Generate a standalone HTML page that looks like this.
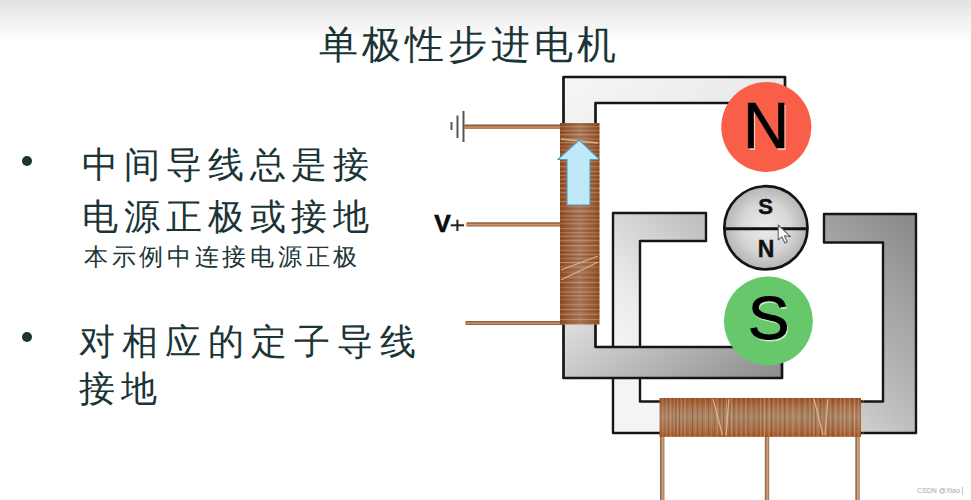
<!DOCTYPE html>
<html><head><meta charset="utf-8">
<style>
html,body{margin:0;padding:0;}
body{width:971px;height:500px;overflow:hidden;position:relative;background:linear-gradient(to bottom,#e2e2e2 0px,#f6f6f6 28px,#ffffff 42px,#ffffff 500px);font-family:"Liberation Serif",serif;color:#1b3436;}
.t{position:absolute;white-space:nowrap;line-height:1;font-weight:300;}
.title{left:319px;top:25px;font-size:39px;letter-spacing:4px;}
.l1{font-size:36px;letter-spacing:5.9px;}
.l2{font-size:36px;letter-spacing:7px;}
.sm{font-size:24px;letter-spacing:3.7px;}
.dot{position:absolute;width:10px;height:10px;border-radius:50%;background:#1b3436;}
svg{position:absolute;left:0;top:0;}
.wm{position:absolute;left:917px;top:486px;font-family:"Liberation Sans",sans-serif;font-size:7px;line-height:10px;color:#a8a8a8;white-space:nowrap;}
.wb{position:absolute;left:962px;top:487px;width:1px;height:8px;background:#c8c8c8;}
</style></head><body>
<div class="t title">单极性步进电机</div>
<div class="dot" style="left:22px;top:156px"></div>
<div class="t l1" style="left:82px;top:147px">中间导线总是接</div>
<div class="t l1" style="left:82px;top:199px">电源正极或接地</div>
<div class="t sm" style="left:84px;top:245px">本示例中连接电源正极</div>
<div class="dot" style="left:22px;top:332px"></div>
<div class="t l2" style="left:78.5px;top:324px">对相应的定子导线</div>
<div class="t l1" style="left:79px;top:371px">接地</div>

<svg width="971" height="500" viewBox="0 0 971 500">
<defs>
<linearGradient id="g1" gradientUnits="userSpaceOnUse" x1="563" y1="77" x2="785" y2="378">
<stop offset="0" stop-color="#f6f6f6"/><stop offset="0.5" stop-color="#e4e4e4"/><stop offset="1" stop-color="#8a8a8a"/>
</linearGradient>
<linearGradient id="g2" gradientUnits="userSpaceOnUse" x1="916" y1="214" x2="700" y2="433">
<stop offset="0" stop-color="#888888"/><stop offset="0.5" stop-color="#bebebe"/><stop offset="0.85" stop-color="#ececec"/><stop offset="1" stop-color="#f4f4f4"/>
</linearGradient>
<radialGradient id="gr" cx="0.5" cy="0.5" r="0.5">
<stop offset="0" stop-color="#ececec"/><stop offset="0.6" stop-color="#d6d6d6"/><stop offset="1" stop-color="#b4b4b4"/>
</radialGradient>
<linearGradient id="cvb" x1="0" y1="0" x2="1" y2="0">
<stop offset="0" stop-color="#8c4a22"/><stop offset="0.15" stop-color="#9a5c36"/><stop offset="0.5" stop-color="#a87a5c"/><stop offset="0.85" stop-color="#9c5c34"/><stop offset="1" stop-color="#8c4a22"/>
</linearGradient>
<pattern id="cv" width="40" height="5" patternUnits="userSpaceOnUse" y="123">
<rect y="0" width="40" height="1.2" fill="#6a3a1a" opacity="0.22"/>
<rect y="2.4" width="40" height="1" fill="#e0c0a0" opacity="0.3"/>
</pattern>
<linearGradient id="chb" x1="0" y1="0" x2="0" y2="1">
<stop offset="0" stop-color="#9a5426"/><stop offset="0.12" stop-color="#a46438"/><stop offset="0.3" stop-color="#a87a58"/><stop offset="0.5" stop-color="#ab8466"/><stop offset="0.75" stop-color="#a87450"/><stop offset="0.9" stop-color="#ac6432"/><stop offset="1" stop-color="#a05424"/>
</linearGradient>
<pattern id="ch" width="5" height="40" patternUnits="userSpaceOnUse" x="660">
<rect x="0" width="1.2" height="40" fill="#6a3a1a" opacity="0.22"/>
<rect x="2.4" width="1" height="40" fill="#e0c0a0" opacity="0.3"/>
</pattern>
</defs>

<!-- ground symbol -->
<g stroke="#555" stroke-width="2">
<line x1="463.5" y1="111" x2="463.5" y2="142"/>
<line x1="457.5" y1="115.5" x2="457.5" y2="138"/>
<line x1="451.5" y1="122" x2="451.5" y2="130"/>
</g>
<text x="434.3" y="232" font-family="Liberation Sans" font-weight="bold" font-size="23" fill="#0a0a0a" stroke="#0a0a0a" stroke-width="0.6" textLength="16.5" lengthAdjust="spacingAndGlyphs">V</text>
<g stroke="#222" stroke-width="2"><line x1="450.7" y1="225.3" x2="464" y2="225.3"/><line x1="457.4" y1="219.7" x2="457.4" y2="231"/></g>

<!-- leads left -->
<g>
<line x1="464.5" y1="126.6" x2="562" y2="126.6" stroke="#8c5a36" stroke-width="4.2"/>
<line x1="465" y1="127" x2="562" y2="127" stroke="#cc9468" stroke-width="1.6"/>
<line x1="466.5" y1="224.4" x2="562" y2="224.4" stroke="#94603a" stroke-width="4.2"/>
<line x1="466.5" y1="224.6" x2="562" y2="224.6" stroke="#cc9468" stroke-width="1.6"/>
<line x1="465.5" y1="323" x2="562" y2="323" stroke="#94603a" stroke-width="4.2"/>
<line x1="465.5" y1="323.2" x2="562" y2="323.2" stroke="#cc9468" stroke-width="1.6"/>
</g>
<!-- leads bottom -->
<g>
<line x1="662.2" y1="430" x2="662.2" y2="500" stroke="#9a6a4a" stroke-width="4.4"/>
<line x1="662.6" y1="430" x2="662.6" y2="500" stroke="#caa07e" stroke-width="2"/>
<line x1="767" y1="430" x2="767" y2="500" stroke="#9a6a4a" stroke-width="4.4"/>
<line x1="767.4" y1="430" x2="767.4" y2="500" stroke="#caa07e" stroke-width="2"/>
<line x1="857.5" y1="430" x2="857.5" y2="500" stroke="#9a6a4a" stroke-width="4.4"/>
<line x1="857.9" y1="430" x2="857.9" y2="500" stroke="#caa07e" stroke-width="2"/>
</g>

<!-- stator 2 -->
<path d="M613,213 H706 V241 H640 V401.5 H883 V242.5 H824 V214 H916 V433 H613 Z" fill="url(#g2)" stroke="#161616" stroke-width="2.4" stroke-linejoin="round"/>
<!-- stator 1 -->
<path d="M563.5,77 H785 V103 H595.5 V347 H782 V378 H563.5 Z" fill="url(#g1)" stroke="#161616" stroke-width="2.7" stroke-linejoin="round"/>

<!-- vertical coil -->
<rect x="560" y="123" width="39.5" height="201.5" fill="url(#cvb)"/>
<g><rect x="560" y="124.0" width="39.5" height="0.9" fill="#6a3818" opacity="0.34"/><rect x="560" y="126.2" width="39.5" height="1" fill="#e6c2a0" opacity="0.27"/><rect x="560" y="128.5" width="39.5" height="0.9" fill="#6a3818" opacity="0.16"/><rect x="560" y="130.2" width="39.5" height="1" fill="#e6c2a0" opacity="0.31"/><rect x="560" y="132.0" width="39.5" height="0.9" fill="#6a3818" opacity="0.27"/><rect x="560" y="134.2" width="39.5" height="1" fill="#e6c2a0" opacity="0.42"/><rect x="560" y="136.5" width="39.5" height="0.9" fill="#6a3818" opacity="0.16"/><rect x="560" y="138.5" width="39.5" height="1" fill="#e6c2a0" opacity="0.28"/><rect x="560" y="140.5" width="39.5" height="0.9" fill="#6a3818" opacity="0.20"/><rect x="560" y="142.2" width="39.5" height="1" fill="#e6c2a0" opacity="0.32"/><rect x="560" y="144.0" width="39.5" height="0.9" fill="#6a3818" opacity="0.32"/><rect x="560" y="145.8" width="39.5" height="1" fill="#e6c2a0" opacity="0.19"/><rect x="560" y="147.5" width="39.5" height="0.9" fill="#6a3818" opacity="0.28"/><rect x="560" y="149.5" width="39.5" height="1" fill="#e6c2a0" opacity="0.32"/><rect x="560" y="151.5" width="39.5" height="0.9" fill="#6a3818" opacity="0.27"/><rect x="560" y="153.2" width="39.5" height="1" fill="#e6c2a0" opacity="0.27"/><rect x="560" y="155.0" width="39.5" height="0.9" fill="#6a3818" opacity="0.16"/><rect x="560" y="157.0" width="39.5" height="1" fill="#e6c2a0" opacity="0.41"/><rect x="560" y="159.0" width="39.5" height="0.9" fill="#6a3818" opacity="0.23"/><rect x="560" y="161.2" width="39.5" height="1" fill="#e6c2a0" opacity="0.31"/><rect x="560" y="163.5" width="39.5" height="0.9" fill="#6a3818" opacity="0.21"/><rect x="560" y="166.2" width="39.5" height="1" fill="#e6c2a0" opacity="0.39"/><rect x="560" y="169.0" width="39.5" height="0.9" fill="#6a3818" opacity="0.17"/><rect x="560" y="171.0" width="39.5" height="1" fill="#e6c2a0" opacity="0.32"/><rect x="560" y="173.0" width="39.5" height="0.9" fill="#6a3818" opacity="0.22"/><rect x="560" y="175.0" width="39.5" height="1" fill="#e6c2a0" opacity="0.31"/><rect x="560" y="177.0" width="39.5" height="0.9" fill="#6a3818" opacity="0.26"/><rect x="560" y="178.8" width="39.5" height="1" fill="#e6c2a0" opacity="0.34"/><rect x="560" y="180.5" width="39.5" height="0.9" fill="#6a3818" opacity="0.29"/><rect x="560" y="183.0" width="39.5" height="1" fill="#e6c2a0" opacity="0.28"/><rect x="560" y="185.5" width="39.5" height="0.9" fill="#6a3818" opacity="0.24"/><rect x="560" y="187.8" width="39.5" height="1" fill="#e6c2a0" opacity="0.43"/><rect x="560" y="190.0" width="39.5" height="0.9" fill="#6a3818" opacity="0.21"/><rect x="560" y="192.2" width="39.5" height="1" fill="#e6c2a0" opacity="0.39"/><rect x="560" y="194.5" width="39.5" height="0.9" fill="#6a3818" opacity="0.17"/><rect x="560" y="196.5" width="39.5" height="1" fill="#e6c2a0" opacity="0.24"/><rect x="560" y="198.5" width="39.5" height="0.9" fill="#6a3818" opacity="0.33"/><rect x="560" y="201.0" width="39.5" height="1" fill="#e6c2a0" opacity="0.37"/><rect x="560" y="203.5" width="39.5" height="0.9" fill="#6a3818" opacity="0.27"/><rect x="560" y="205.8" width="39.5" height="1" fill="#e6c2a0" opacity="0.17"/><rect x="560" y="208.0" width="39.5" height="0.9" fill="#6a3818" opacity="0.23"/><rect x="560" y="210.8" width="39.5" height="1" fill="#e6c2a0" opacity="0.38"/><rect x="560" y="213.5" width="39.5" height="0.9" fill="#6a3818" opacity="0.34"/><rect x="560" y="215.5" width="39.5" height="1" fill="#e6c2a0" opacity="0.28"/><rect x="560" y="217.5" width="39.5" height="0.9" fill="#6a3818" opacity="0.30"/><rect x="560" y="219.2" width="39.5" height="1" fill="#e6c2a0" opacity="0.32"/><rect x="560" y="221.0" width="39.5" height="0.9" fill="#6a3818" opacity="0.22"/><rect x="560" y="223.2" width="39.5" height="1" fill="#e6c2a0" opacity="0.26"/><rect x="560" y="225.5" width="39.5" height="0.9" fill="#6a3818" opacity="0.27"/><rect x="560" y="228.0" width="39.5" height="1" fill="#e6c2a0" opacity="0.29"/><rect x="560" y="230.5" width="39.5" height="0.9" fill="#6a3818" opacity="0.34"/><rect x="560" y="232.2" width="39.5" height="1" fill="#e6c2a0" opacity="0.29"/><rect x="560" y="234.0" width="39.5" height="0.9" fill="#6a3818" opacity="0.16"/><rect x="560" y="235.8" width="39.5" height="1" fill="#e6c2a0" opacity="0.36"/><rect x="560" y="237.5" width="39.5" height="0.9" fill="#6a3818" opacity="0.35"/><rect x="560" y="240.2" width="39.5" height="1" fill="#e6c2a0" opacity="0.40"/><rect x="560" y="243.0" width="39.5" height="0.9" fill="#6a3818" opacity="0.29"/><rect x="560" y="245.2" width="39.5" height="1" fill="#e6c2a0" opacity="0.42"/><rect x="560" y="247.5" width="39.5" height="0.9" fill="#6a3818" opacity="0.15"/><rect x="560" y="249.8" width="39.5" height="1" fill="#e6c2a0" opacity="0.29"/><rect x="560" y="252.0" width="39.5" height="0.9" fill="#6a3818" opacity="0.27"/><rect x="560" y="254.0" width="39.5" height="1" fill="#e6c2a0" opacity="0.30"/><rect x="560" y="256.0" width="39.5" height="0.9" fill="#6a3818" opacity="0.30"/><rect x="560" y="258.0" width="39.5" height="1" fill="#e6c2a0" opacity="0.19"/><rect x="560" y="260.0" width="39.5" height="0.9" fill="#6a3818" opacity="0.23"/><rect x="560" y="262.0" width="39.5" height="1" fill="#e6c2a0" opacity="0.43"/><rect x="560" y="264.0" width="39.5" height="0.9" fill="#6a3818" opacity="0.17"/><rect x="560" y="266.5" width="39.5" height="1" fill="#e6c2a0" opacity="0.28"/><rect x="560" y="269.0" width="39.5" height="0.9" fill="#6a3818" opacity="0.21"/><rect x="560" y="271.8" width="39.5" height="1" fill="#e6c2a0" opacity="0.19"/><rect x="560" y="274.5" width="39.5" height="0.9" fill="#6a3818" opacity="0.32"/><rect x="560" y="277.0" width="39.5" height="1" fill="#e6c2a0" opacity="0.23"/><rect x="560" y="279.5" width="39.5" height="0.9" fill="#6a3818" opacity="0.35"/><rect x="560" y="282.0" width="39.5" height="1" fill="#e6c2a0" opacity="0.35"/><rect x="560" y="284.5" width="39.5" height="0.9" fill="#6a3818" opacity="0.34"/><rect x="560" y="287.0" width="39.5" height="1" fill="#e6c2a0" opacity="0.20"/><rect x="560" y="289.5" width="39.5" height="0.9" fill="#6a3818" opacity="0.18"/><rect x="560" y="291.5" width="39.5" height="1" fill="#e6c2a0" opacity="0.35"/><rect x="560" y="293.5" width="39.5" height="0.9" fill="#6a3818" opacity="0.25"/><rect x="560" y="295.2" width="39.5" height="1" fill="#e6c2a0" opacity="0.33"/><rect x="560" y="297.0" width="39.5" height="0.9" fill="#6a3818" opacity="0.21"/><rect x="560" y="299.2" width="39.5" height="1" fill="#e6c2a0" opacity="0.19"/><rect x="560" y="301.5" width="39.5" height="0.9" fill="#6a3818" opacity="0.22"/><rect x="560" y="304.2" width="39.5" height="1" fill="#e6c2a0" opacity="0.32"/><rect x="560" y="307.0" width="39.5" height="0.9" fill="#6a3818" opacity="0.29"/><rect x="560" y="309.0" width="39.5" height="1" fill="#e6c2a0" opacity="0.30"/><rect x="560" y="311.0" width="39.5" height="0.9" fill="#6a3818" opacity="0.28"/><rect x="560" y="313.8" width="39.5" height="1" fill="#e6c2a0" opacity="0.37"/><rect x="560" y="316.5" width="39.5" height="0.9" fill="#6a3818" opacity="0.33"/><rect x="560" y="319.0" width="39.5" height="1" fill="#e6c2a0" opacity="0.38"/><rect x="560" y="321.5" width="39.5" height="0.9" fill="#6a3818" opacity="0.23"/><rect x="560" y="324.2" width="39.5" height="1" fill="#e6c2a0" opacity="0.27"/></g>
<g stroke="#e0bc96" stroke-width="1.3" fill="none" opacity="0.9">
<line x1="561" y1="139" x2="598" y2="143"/>
<line x1="561" y1="270" x2="598" y2="256"/>
<line x1="561" y1="280" x2="598" y2="262"/>
</g>
<!-- arrow -->
<path d="M579.2,140 L599.5,159.5 L590,159.5 L590,205 L567,205 L567,159.5 L557.8,159.5 Z" fill="#bfe9f9" stroke="#4f9cb8" stroke-width="1.1" stroke-linejoin="round"/>

<!-- horizontal coil -->
<rect x="659.5" y="398" width="201.5" height="38.8" fill="url(#chb)"/>
<g><rect x="660.5" y="398" width="0.9" height="38.8" fill="#6a3818" opacity="0.27"/><rect x="662.2" y="398" width="1" height="38.8" fill="#e6c2a0" opacity="0.27"/><rect x="664.0" y="398" width="0.9" height="38.8" fill="#6a3818" opacity="0.17"/><rect x="666.0" y="398" width="1" height="38.8" fill="#e6c2a0" opacity="0.21"/><rect x="668.0" y="398" width="0.9" height="38.8" fill="#6a3818" opacity="0.18"/><rect x="670.0" y="398" width="1" height="38.8" fill="#e6c2a0" opacity="0.33"/><rect x="672.0" y="398" width="0.9" height="38.8" fill="#6a3818" opacity="0.15"/><rect x="673.8" y="398" width="1" height="38.8" fill="#e6c2a0" opacity="0.20"/><rect x="675.5" y="398" width="0.9" height="38.8" fill="#6a3818" opacity="0.39"/><rect x="677.2" y="398" width="1" height="38.8" fill="#e6c2a0" opacity="0.33"/><rect x="679.0" y="398" width="0.9" height="38.8" fill="#6a3818" opacity="0.37"/><rect x="680.8" y="398" width="1" height="38.8" fill="#e6c2a0" opacity="0.33"/><rect x="682.5" y="398" width="0.9" height="38.8" fill="#6a3818" opacity="0.31"/><rect x="684.5" y="398" width="1" height="38.8" fill="#e6c2a0" opacity="0.44"/><rect x="686.5" y="398" width="0.9" height="38.8" fill="#6a3818" opacity="0.24"/><rect x="689.2" y="398" width="1" height="38.8" fill="#e6c2a0" opacity="0.19"/><rect x="692.0" y="398" width="0.9" height="38.8" fill="#6a3818" opacity="0.40"/><rect x="694.5" y="398" width="1" height="38.8" fill="#e6c2a0" opacity="0.29"/><rect x="697.0" y="398" width="0.9" height="38.8" fill="#6a3818" opacity="0.23"/><rect x="699.5" y="398" width="1" height="38.8" fill="#e6c2a0" opacity="0.19"/><rect x="702.0" y="398" width="0.9" height="38.8" fill="#6a3818" opacity="0.24"/><rect x="705.0" y="398" width="1" height="38.8" fill="#e6c2a0" opacity="0.23"/><rect x="708.0" y="398" width="0.9" height="38.8" fill="#6a3818" opacity="0.19"/><rect x="711.0" y="398" width="1" height="38.8" fill="#e6c2a0" opacity="0.16"/><rect x="714.0" y="398" width="0.9" height="38.8" fill="#6a3818" opacity="0.24"/><rect x="716.8" y="398" width="1" height="38.8" fill="#e6c2a0" opacity="0.36"/><rect x="719.5" y="398" width="0.9" height="38.8" fill="#6a3818" opacity="0.34"/><rect x="721.2" y="398" width="1" height="38.8" fill="#e6c2a0" opacity="0.24"/><rect x="723.0" y="398" width="0.9" height="38.8" fill="#6a3818" opacity="0.37"/><rect x="726.0" y="398" width="1" height="38.8" fill="#e6c2a0" opacity="0.36"/><rect x="729.0" y="398" width="0.9" height="38.8" fill="#6a3818" opacity="0.28"/><rect x="731.2" y="398" width="1" height="38.8" fill="#e6c2a0" opacity="0.42"/><rect x="733.5" y="398" width="0.9" height="38.8" fill="#6a3818" opacity="0.34"/><rect x="735.8" y="398" width="1" height="38.8" fill="#e6c2a0" opacity="0.31"/><rect x="738.0" y="398" width="0.9" height="38.8" fill="#6a3818" opacity="0.23"/><rect x="740.8" y="398" width="1" height="38.8" fill="#e6c2a0" opacity="0.22"/><rect x="743.5" y="398" width="0.9" height="38.8" fill="#6a3818" opacity="0.35"/><rect x="745.5" y="398" width="1" height="38.8" fill="#e6c2a0" opacity="0.40"/><rect x="747.5" y="398" width="0.9" height="38.8" fill="#6a3818" opacity="0.35"/><rect x="750.5" y="398" width="1" height="38.8" fill="#e6c2a0" opacity="0.21"/><rect x="753.5" y="398" width="0.9" height="38.8" fill="#6a3818" opacity="0.24"/><rect x="756.0" y="398" width="1" height="38.8" fill="#e6c2a0" opacity="0.16"/><rect x="758.5" y="398" width="0.9" height="38.8" fill="#6a3818" opacity="0.35"/><rect x="760.2" y="398" width="1" height="38.8" fill="#e6c2a0" opacity="0.29"/><rect x="762.0" y="398" width="0.9" height="38.8" fill="#6a3818" opacity="0.32"/><rect x="764.0" y="398" width="1" height="38.8" fill="#e6c2a0" opacity="0.44"/><rect x="766.0" y="398" width="0.9" height="38.8" fill="#6a3818" opacity="0.35"/><rect x="768.5" y="398" width="1" height="38.8" fill="#e6c2a0" opacity="0.37"/><rect x="771.0" y="398" width="0.9" height="38.8" fill="#6a3818" opacity="0.39"/><rect x="773.2" y="398" width="1" height="38.8" fill="#e6c2a0" opacity="0.26"/><rect x="775.5" y="398" width="0.9" height="38.8" fill="#6a3818" opacity="0.18"/><rect x="777.5" y="398" width="1" height="38.8" fill="#e6c2a0" opacity="0.29"/><rect x="779.5" y="398" width="0.9" height="38.8" fill="#6a3818" opacity="0.20"/><rect x="781.8" y="398" width="1" height="38.8" fill="#e6c2a0" opacity="0.34"/><rect x="784.0" y="398" width="0.9" height="38.8" fill="#6a3818" opacity="0.36"/><rect x="786.8" y="398" width="1" height="38.8" fill="#e6c2a0" opacity="0.29"/><rect x="789.5" y="398" width="0.9" height="38.8" fill="#6a3818" opacity="0.24"/><rect x="792.5" y="398" width="1" height="38.8" fill="#e6c2a0" opacity="0.34"/><rect x="795.5" y="398" width="0.9" height="38.8" fill="#6a3818" opacity="0.18"/><rect x="798.5" y="398" width="1" height="38.8" fill="#e6c2a0" opacity="0.27"/><rect x="801.5" y="398" width="0.9" height="38.8" fill="#6a3818" opacity="0.34"/><rect x="804.5" y="398" width="1" height="38.8" fill="#e6c2a0" opacity="0.29"/><rect x="807.5" y="398" width="0.9" height="38.8" fill="#6a3818" opacity="0.26"/><rect x="809.5" y="398" width="1" height="38.8" fill="#e6c2a0" opacity="0.34"/><rect x="811.5" y="398" width="0.9" height="38.8" fill="#6a3818" opacity="0.35"/><rect x="813.2" y="398" width="1" height="38.8" fill="#e6c2a0" opacity="0.44"/><rect x="815.0" y="398" width="0.9" height="38.8" fill="#6a3818" opacity="0.27"/><rect x="817.5" y="398" width="1" height="38.8" fill="#e6c2a0" opacity="0.37"/><rect x="820.0" y="398" width="0.9" height="38.8" fill="#6a3818" opacity="0.33"/><rect x="821.8" y="398" width="1" height="38.8" fill="#e6c2a0" opacity="0.20"/><rect x="823.5" y="398" width="0.9" height="38.8" fill="#6a3818" opacity="0.16"/><rect x="825.5" y="398" width="1" height="38.8" fill="#e6c2a0" opacity="0.33"/><rect x="827.5" y="398" width="0.9" height="38.8" fill="#6a3818" opacity="0.35"/><rect x="830.0" y="398" width="1" height="38.8" fill="#e6c2a0" opacity="0.19"/><rect x="832.5" y="398" width="0.9" height="38.8" fill="#6a3818" opacity="0.40"/><rect x="835.2" y="398" width="1" height="38.8" fill="#e6c2a0" opacity="0.35"/><rect x="838.0" y="398" width="0.9" height="38.8" fill="#6a3818" opacity="0.19"/><rect x="840.2" y="398" width="1" height="38.8" fill="#e6c2a0" opacity="0.31"/><rect x="842.5" y="398" width="0.9" height="38.8" fill="#6a3818" opacity="0.15"/><rect x="844.2" y="398" width="1" height="38.8" fill="#e6c2a0" opacity="0.44"/><rect x="846.0" y="398" width="0.9" height="38.8" fill="#6a3818" opacity="0.18"/><rect x="849.0" y="398" width="1" height="38.8" fill="#e6c2a0" opacity="0.37"/><rect x="852.0" y="398" width="0.9" height="38.8" fill="#6a3818" opacity="0.26"/><rect x="854.0" y="398" width="1" height="38.8" fill="#e6c2a0" opacity="0.41"/><rect x="856.0" y="398" width="0.9" height="38.8" fill="#6a3818" opacity="0.16"/><rect x="858.0" y="398" width="1" height="38.8" fill="#e6c2a0" opacity="0.21"/><rect x="860.0" y="398" width="0.9" height="38.8" fill="#6a3818" opacity="0.21"/><rect x="862.8" y="398" width="1" height="38.8" fill="#e6c2a0" opacity="0.33"/></g>
<g stroke="#e0bc96" stroke-width="1.3" fill="none" opacity="0.9">
<line x1="713" y1="399" x2="722.5" y2="435"/>
<line x1="729" y1="399" x2="726" y2="435"/>
<line x1="814" y1="399" x2="823" y2="435"/>
<line x1="828" y1="399" x2="825" y2="435"/>
</g>

<!-- N circle -->
<circle cx="766.3" cy="127" r="45" fill="#f95e48"/>
<text x="767.5" y="149.5" text-anchor="middle" font-family="Liberation Sans" font-size="64" fill="#fde0d8" opacity="0.8">N</text>
<text x="766.2" y="148" text-anchor="middle" font-family="Liberation Sans" font-size="64" fill="#000" stroke="#000" stroke-width="0.7">N</text>
<!-- rotor -->
<circle cx="765.9" cy="227.8" r="41.6" fill="url(#gr)" stroke="#141414" stroke-width="2.7"/>
<line x1="724" y1="228.8" x2="807" y2="228.8" stroke="#111" stroke-width="3"/>
<text x="765.6" y="214" text-anchor="middle" font-family="Liberation Sans" font-weight="bold" font-size="22" fill="#111" stroke="#111" stroke-width="0.5">S</text>
<text x="766" y="257" text-anchor="middle" font-family="Liberation Sans" font-weight="bold" font-size="23" fill="#111" stroke="#111" stroke-width="0.4">N</text>
<!-- S circle -->
<circle cx="768.4" cy="321" r="44.5" fill="#66c86a"/>
<text x="770" y="340.5" text-anchor="middle" font-family="Liberation Sans" font-size="62" fill="#e6f6e0" opacity="0.8">S</text>
<text x="768.6" y="339" text-anchor="middle" font-family="Liberation Sans" font-size="62" fill="#000" stroke="#000" stroke-width="1">S</text>
<!-- cursor -->
<path d="M778.2,225 L778.2,240 L781.8,236.8 L784.8,243 L787.2,241.8 L784.4,235.8 L790.5,236.6 Z" fill="#f8f8f8" stroke="#666" stroke-width="1.1" stroke-linejoin="round"/>
</svg>
<div class="wm">CSDN @Xiao</div><div class="wb"></div>
</body></html>
